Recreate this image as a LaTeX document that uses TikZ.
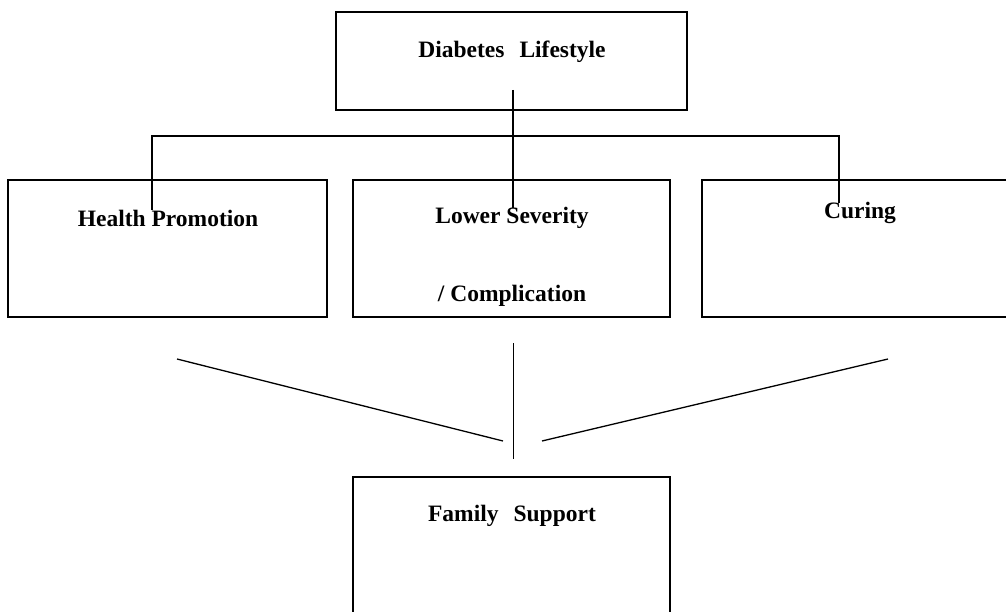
\documentclass[tikz,border=0pt]{standalone}
\usepackage{fontspec}
\setmainfont{Liberation Serif}
\begin{document}
\begin{tikzpicture}[x=1pt,y=-1pt,
  box/.style={draw, line width=1.6pt, inner sep=0pt},
  lbl/.style={font=\fontsize{23.5}{27}\selectfont\bfseries, inner sep=0pt, anchor=center},
  conn/.style={line width=1.3pt},
  thin/.style={line width=1pt}]
\useasboundingbox (0,0) rectangle (1006,612);
\clip (0,0) rectangle (1006,612);
% boxes
\node[box, minimum width=351pt, minimum height=98pt] (top) at (511.5,61) {};
\node[box, minimum width=319pt, minimum height=137pt] (left) at (167.5,248.5) {};
\node[box, minimum width=317pt, minimum height=137pt] (mid) at (511.5,248.5) {};
\node[box, minimum width=310pt, minimum height=137pt] (right) at (857,248.5) {};
\node[box, minimum width=317pt, minimum height=145pt] (bot) at (511.5,549.5) {};
% labels
\node[lbl] (ttop) at (512,52) {Diabetes\hspace{15pt}Lifestyle};
\node[lbl] (tleft) at (168,218) {Health Promotion};
\node[lbl] (tmid1) at (512,218) {Lower Severity};
\node[lbl] (tmid2) at (512,296) {/ Complication};
\node[lbl] (tright) at (860,213) {Curing};
\node[lbl] (tbot) at (512,516) {Family\hspace{15pt}Support};
% tree connectors
\coordinate (a0) at (513,90);
\coordinate (a1) at (513,208);
\coordinate (h0) at (152,136);
\coordinate (h1) at (839,136);
\coordinate (l1) at (152,210);
\coordinate (r1) at (839,203);
\draw[conn] (a0) -- (a1);
\draw[conn] (l1) -- (h0) -- (h1) -- (r1);
% lower lines
\coordinate (d0) at (177,359);
\coordinate (d1) at (503,441);
\coordinate (v0) at (513,343);
\coordinate (v1) at (513,459);
\coordinate (e0) at (542,441);
\coordinate (e1) at (888,359);
\draw[conn] (d0) -- (d1);
\draw[thin] (v0) -- (v1);
\draw[conn] (e0) -- (e1);
\end{tikzpicture}
\end{document}
